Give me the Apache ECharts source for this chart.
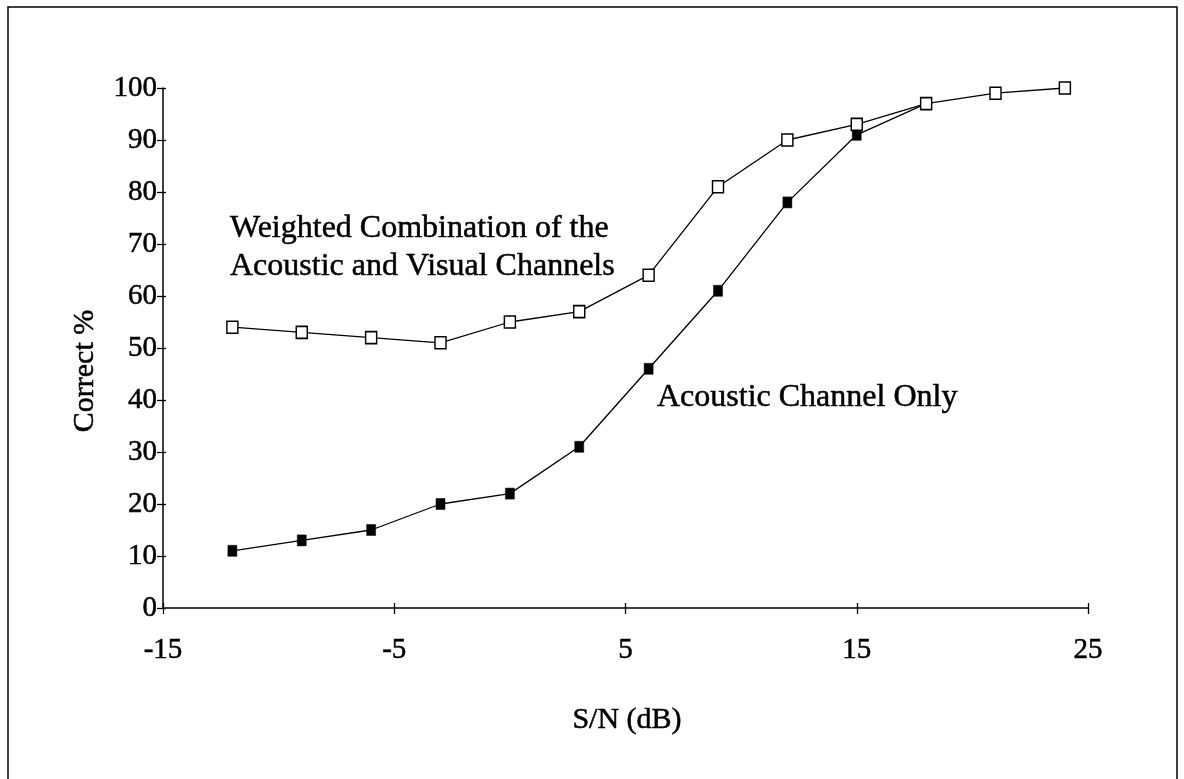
<!DOCTYPE html>
<html>
<head>
<meta charset="utf-8">
<script src="https://cdn.jsdelivr.net/npm/echarts@6/dist/echarts.min.js"></script>
<style>html,body{margin:0;padding:0;background:#fff}#c{width:1184px;height:779px}</style>
</head>
<body>
<div id="c"></div>
<script>
const snr = [-12, -9, -6, -3, 0, 3, 6, 9, 12, 15, 18, 21, 24];
const weighted = [54, 53, 52, 51, 55, 57, 64, 81, 90, 93, 97, 99, 100];
const acoustic = [11, 13, 15, 20, 22, 31, 46, 61, 78, 91, 97];
const xTicks = [-15, -5, 5, 15, 25];
const yTicks = [0, 10, 20, 30, 40, 50, 60, 70, 80, 90, 100];
const labelWeighted = ['Weighted Combination of the', 'Acoustic and Visual Channels'];
const labelAcoustic = 'Acoustic Channel Only';
const xTitle = 'S/N (dB)';
const yTitle = 'Correct %';

const FONT = '"Liberation Serif", "Times New Roman", serif';
const chart = echarts.init(document.getElementById('c'));
const G = {left: 163, top: 88, right: 96, bottom: 171};
const lineC = '#000';
const heavy = {textBorderColor: '#000', textBorderWidth: 0.5};
const txt = (t, size, extra) => Object.assign({text: t, font: size + 'px "Liberation Serif"', fill: '#000', stroke: '#000', lineWidth: 0.5}, extra || {});
chart.setOption({
  backgroundColor: '#fff',
  animation: false,
  grid: G,
  xAxis: [
    {
      type: 'value', min: -15, max: 25, interval: 10, position: 'bottom',
      axisLine: {show: true, onZero: false, lineStyle: {color: lineC, width: 1.5}},
      axisTick: {show: true, inside: false, length: 6, lineStyle: {color: lineC, width: 1.3}},
      axisLabel: Object.assign({fontFamily: FONT, fontSize: 29, color: '#000', margin: 28,
        formatter: v => xTicks.includes(v) ? String(v) : ''}, heavy),
      splitLine: {show: false}
    },
    {
      type: 'value', min: -15, max: 25, interval: 10, position: 'bottom',
      axisLine: {show: false, onZero: false},
      axisTick: {show: true, inside: true, length: 5, lineStyle: {color: lineC, width: 1.3}},
      axisLabel: {show: false},
      splitLine: {show: false}
    }
  ],
  yAxis: [
    {
      type: 'value', min: 0, max: 100, interval: 10, position: 'left',
      axisLine: {show: true, onZero: false, lineStyle: {color: lineC, width: 1.5}},
      axisTick: {show: true, inside: false, length: 6, lineStyle: {color: lineC, width: 1.3}},
      axisLabel: Object.assign({fontFamily: FONT, fontSize: 29, color: '#000', margin: 6,
        padding: [6, 0, 0, 0],
        formatter: v => yTicks.includes(v) ? String(v) : ''}, heavy),
      splitLine: {show: false}
    },
    {
      type: 'value', min: 0, max: 100, interval: 10, position: 'left',
      axisLine: {show: false, onZero: false},
      axisTick: {show: true, inside: true, length: 3, lineStyle: {color: lineC, width: 1.3}},
      axisLabel: {show: false},
      splitLine: {show: false}
    }
  ],
  series: [
    {
      type: 'line', name: 'Acoustic Channel Only',
      data: acoustic.map((v, i) => [snr[i], v]),
      symbol: 'rect', symbolSize: [9, 11],
      lineStyle: {color: '#000', width: 1.3},
      itemStyle: {color: '#000', borderColor: '#000', borderWidth: 0.5},
      z: 2
    },
    {
      type: 'line', name: 'Weighted Combination',
      data: weighted.map((v, i) => [snr[i], v]),
      symbol: 'rect', symbolSize: [11, 12],
      lineStyle: {color: '#000', width: 1.3},
      itemStyle: {color: '#fff', borderColor: '#000', borderWidth: 1.5},
      z: 3
    }
  ],
  graphic: [
    {type: 'rect', shape: {x: 8, y: 7, width: 1169, height: 820},
      style: {fill: 'none', stroke: '#000', lineWidth: 1.5}, silent: true},
    {type: 'text', x: 230, y: 229, style: txt(labelWeighted[0], 32, {verticalAlign: 'middle'})},
    {type: 'text', x: 230, y: 267, style: txt(labelWeighted[1], 32, {verticalAlign: 'middle'})},
    {type: 'text', x: 657, y: 398, style: txt(labelAcoustic, 32, {verticalAlign: 'middle'})},
    {type: 'text', x: 627, y: 720, style: txt(xTitle, 30, {align: 'center', verticalAlign: 'middle'})},
    {type: 'text', x: 85, y: 371, rotation: Math.PI / 2, style: txt(yTitle, 30, {align: 'center', verticalAlign: 'middle'})}
  ]
});
</script>
</body>
</html>
